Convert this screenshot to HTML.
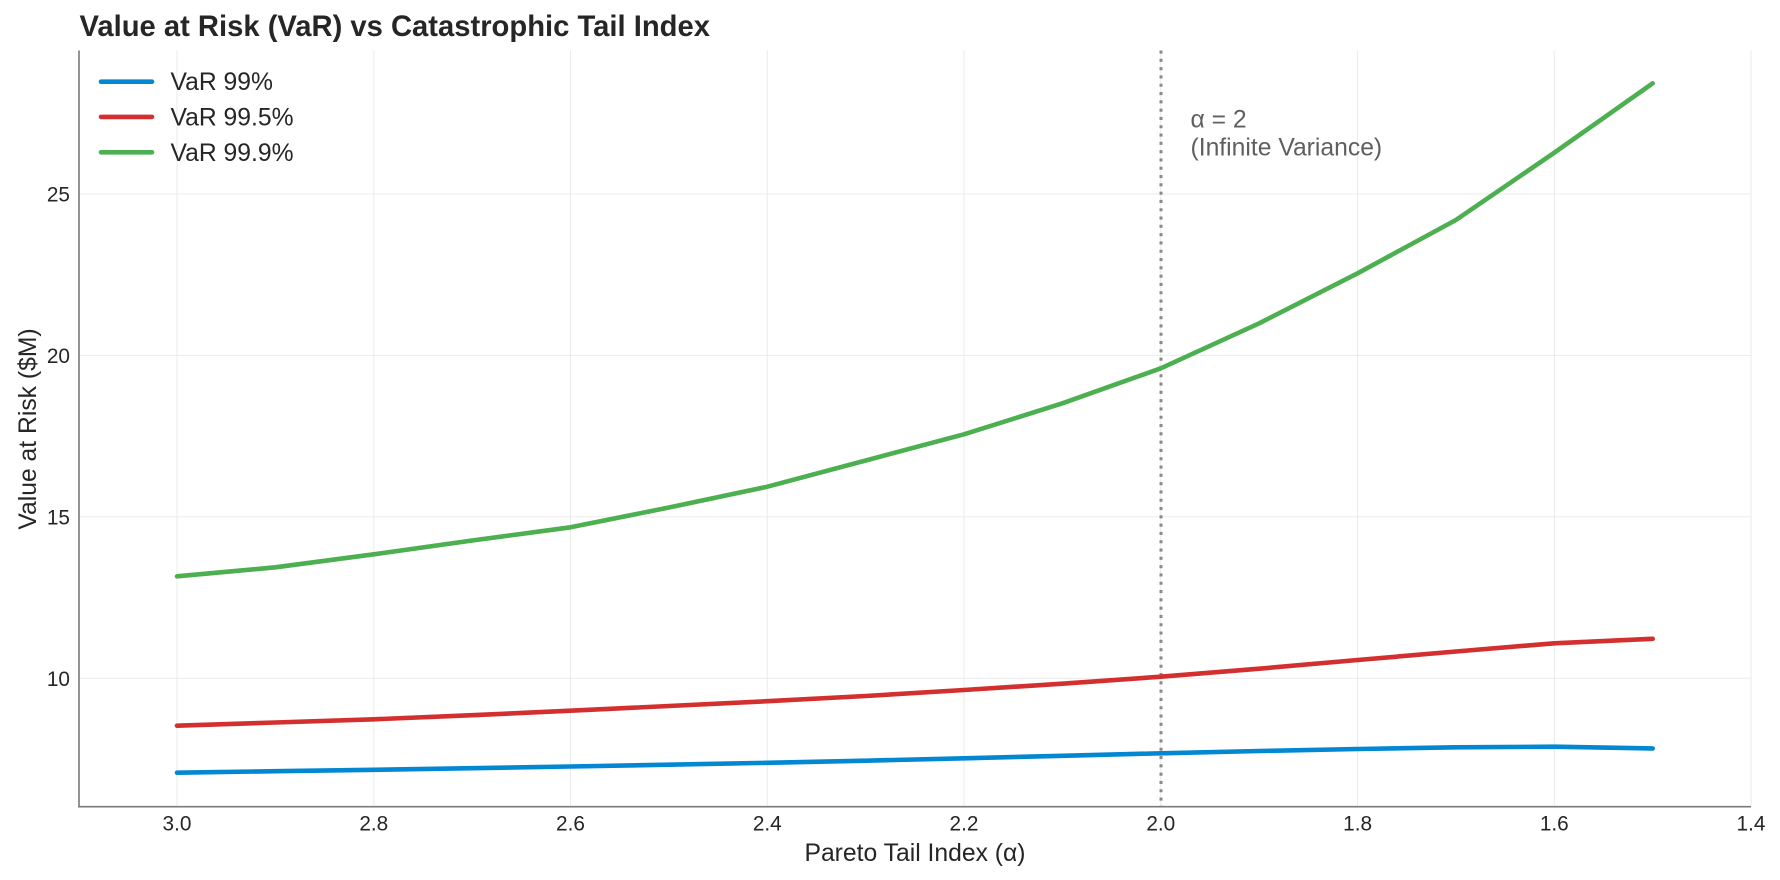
<!DOCTYPE html>
<html>
<head>
<meta charset="utf-8">
<style>
  html,body{margin:0;padding:0;background:#fff;}
  svg{display:block;}
  text{font-family:"Liberation Sans", Arial, sans-serif;}
</style>
</head>
<body>
<svg width="1780" height="880" viewBox="0 0 1780 880" xmlns="http://www.w3.org/2000/svg">
  <rect x="0" y="0" width="1780" height="880" fill="#ffffff"/>

  <!-- grid: vertical -->
  <g stroke="#ebebeb" stroke-width="1">
    <line x1="177" y1="50.5" x2="177" y2="806.7"/>
    <line x1="373.8" y1="50.5" x2="373.8" y2="806.7"/>
    <line x1="570.5" y1="50.5" x2="570.5" y2="806.7"/>
    <line x1="767.3" y1="50.5" x2="767.3" y2="806.7"/>
    <line x1="964" y1="50.5" x2="964" y2="806.7"/>
    <line x1="1160.8" y1="50.5" x2="1160.8" y2="806.7"/>
    <line x1="1357.6" y1="50.5" x2="1357.6" y2="806.7"/>
    <line x1="1554.3" y1="50.5" x2="1554.3" y2="806.7"/>
    <line x1="1751" y1="50.5" x2="1751" y2="806.7"/>
  </g>
  <!-- grid: horizontal -->
  <g stroke="#ebebeb" stroke-width="1">
    <line x1="79" y1="194" x2="1751" y2="194"/>
    <line x1="79" y1="355.4" x2="1751" y2="355.4"/>
    <line x1="79" y1="516.9" x2="1751" y2="516.9"/>
    <line x1="79" y1="678.3" x2="1751" y2="678.3"/>
  </g>

  <!-- vertical dotted line at alpha=2 -->
  <line x1="1161" y1="50.5" x2="1161" y2="806.7" stroke="#8a8a8a" stroke-width="3" stroke-dasharray="3.1 5.2"/>

  <!-- annotation -->
  <text x="1190.5" y="127.5" font-size="24.7" fill="#5f5f5f">α = 2</text>
  <text x="1190.5" y="155.5" font-size="24.7" fill="#5f5f5f">(Infinite Variance)</text>

  <!-- series -->
  <g fill="none" stroke-width="4.6" stroke-linejoin="round" stroke-linecap="round">
    <!-- VaR 99% blue -->
    <polyline stroke="#0288d1" points="177,772.7 275.4,771.2 373.8,769.8 472.1,768.2 570.5,766.5 668.9,764.7 767.3,762.8 865.7,760.7 964,758.3 1062.4,755.8 1160.8,753.3 1259.2,751 1357.6,749 1455.9,747.3 1554.3,746.7 1652.7,748.5"/>
    <!-- VaR 99.5% red -->
    <polyline stroke="#d32f2f" points="177,725.7 275.4,722.5 373.8,719.3 472.1,715.2 570.5,710.7 668.9,706 767.3,701.2 865.7,696 964,690 1062.4,683.7 1160.8,676.7 1259.2,668.7 1357.6,660 1455.9,651.5 1554.3,643.3 1652.7,638.8"/>
    <!-- VaR 99.9% green -->
    <polyline stroke="#4caf50" points="177,576.3 275.4,567.3 373.8,554.3 472.1,540.5 570.5,527.3 668.9,507.5 767.3,486.7 865.7,460.5 964,434.3 1062.4,403.3 1160.8,368.3 1259.2,323.3 1357.6,273.3 1455.9,220 1554.3,152.7 1652.7,83.3"/>
  </g>

  <!-- spines -->
  <line x1="79" y1="50.5" x2="79" y2="807.5" stroke="#7a7a7a" stroke-width="1.6"/>
  <line x1="78.2" y1="806.7" x2="1751" y2="806.7" stroke="#7a7a7a" stroke-width="1.6"/>

  <!-- y tick labels -->
  <g font-size="20.8" fill="#262626" text-anchor="end">
    <text x="70" y="201.5">25</text>
    <text x="70" y="362.9">20</text>
    <text x="70" y="524.4">15</text>
    <text x="70" y="685.8">10</text>
  </g>

  <!-- x tick labels -->
  <g font-size="20.8" fill="#262626" text-anchor="middle">
    <text x="177" y="830.7">3.0</text>
    <text x="373.8" y="830.7">2.8</text>
    <text x="570.5" y="830.7">2.6</text>
    <text x="767.3" y="830.7">2.4</text>
    <text x="964" y="830.7">2.2</text>
    <text x="1160.8" y="830.7">2.0</text>
    <text x="1357.6" y="830.7">1.8</text>
    <text x="1554.3" y="830.7">1.6</text>
    <text x="1751" y="830.7">1.4</text>
  </g>

  <!-- axis labels -->
  <text x="915" y="861" font-size="24.7" fill="#262626" text-anchor="middle">Pareto Tail Index (α)</text>
  <text transform="translate(35.8,429) rotate(-90)" x="0" y="0" font-size="24.7" fill="#262626" text-anchor="middle">Value at Risk ($M)</text>

  <!-- title -->
  <text x="79.5" y="36" font-size="29.2" font-weight="bold" fill="#262626">Value at Risk (VaR) vs Catastrophic Tail Index</text>

  <!-- legend -->
  <g stroke-width="4.6" stroke-linecap="round">
    <line x1="101" y1="81.7" x2="152" y2="81.7" stroke="#0288d1"/>
    <line x1="101" y1="116.9" x2="152" y2="116.9" stroke="#d32f2f"/>
    <line x1="101" y1="152.3" x2="152" y2="152.3" stroke="#4caf50"/>
  </g>
  <g font-size="24.7" fill="#262626">
    <text x="170.5" y="90">VaR 99%</text>
    <text x="170.5" y="125.5">VaR 99.5%</text>
    <text x="170.5" y="161">VaR 99.9%</text>
  </g>
</svg>
</body>
</html>
